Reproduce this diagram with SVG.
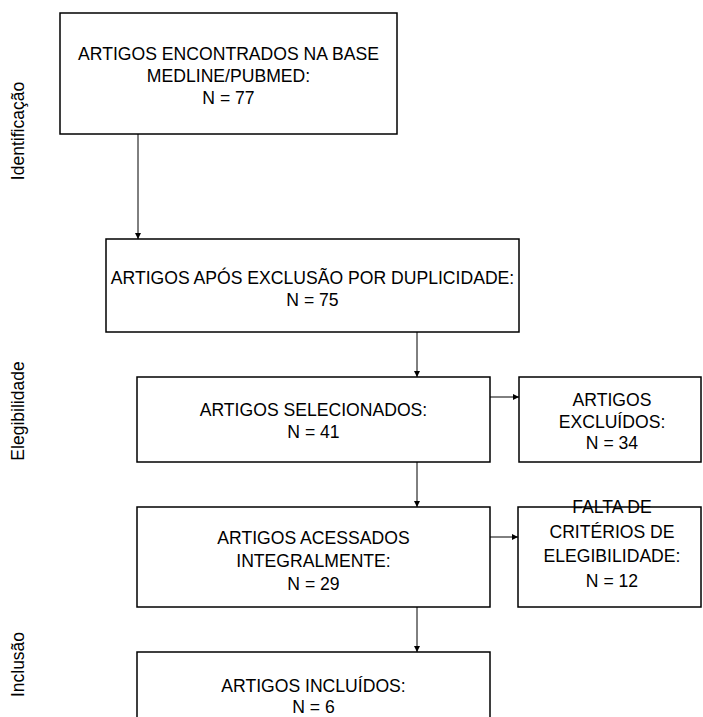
<svg xmlns="http://www.w3.org/2000/svg" width="703" height="717" viewBox="0 0 703 717">
<style>
.box{fill:#fff;stroke:#000;stroke-width:1.5}
.t{font-family:"Liberation Sans",Arial,sans-serif;font-size:17.6px;fill:#000;text-anchor:middle}
.side{font-family:"Liberation Sans",Arial,sans-serif;font-size:17.5px;fill:#000;text-anchor:middle}
.c{fill:none;stroke:#000;stroke-width:1}
</style>
<defs>
<marker id="ah" markerUnits="userSpaceOnUse" markerWidth="6" markerHeight="6" refX="6" refY="3" orient="auto">
<path d="M0,0 L6,3 L0,6 z" fill="#000"/>
</marker>
</defs>
<rect width="703" height="717" fill="#fff"/>
<g id="labels">
<text class="side" transform="translate(24,131) rotate(-90)">Identificação</text>
<text class="side" transform="translate(24,411) rotate(-90)">Elegibilidade</text>
<text class="side" transform="translate(24,664.5) rotate(-90)">Inclusão</text>
</g>
<g id="connectors">
<path class="c" d="M138,134 V239" marker-end="url(#ah)"/>
<path class="c" d="M417,332 V377" marker-end="url(#ah)"/>
<path class="c" d="M490,397 H519" marker-end="url(#ah)"/>
<path class="c" d="M417,462 V507" marker-end="url(#ah)"/>
<path class="c" d="M490,537 H518" marker-end="url(#ah)"/>
<path class="c" d="M417,607 V652" marker-end="url(#ah)"/>
</g>
<g id="n1">
<rect class="box" x="60" y="13" width="337" height="121"/>
<text class="t" x="228.5" y="59.5">ARTIGOS ENCONTRADOS NA BASE</text>
<text class="t" x="228.5" y="81.5">MEDLINE/PUBMED:</text>
<text class="t" x="228.5" y="103.5">N = 77</text>
</g>
<g id="n2">
<rect class="box" x="106" y="239" width="413" height="93"/>
<text class="t" x="312.5" y="284">ARTIGOS APÓS EXCLUSÃO POR DUPLICIDADE:</text>
<text class="t" x="312.5" y="306">N = 75</text>
</g>
<g id="n3">
<rect class="box" x="137" y="377" width="353" height="85"/>
<text class="t" x="313.5" y="416">ARTIGOS SELECIONADOS:</text>
<text class="t" x="313.5" y="437.5">N = 41</text>
</g>
<g id="n4">
<rect class="box" x="519" y="377" width="182" height="85"/>
<text class="t" x="612" y="406">ARTIGOS</text>
<text class="t" x="612" y="427.5">EXCLUÍDOS:</text>
<text class="t" x="612" y="449">N = 34</text>
</g>
<g id="n5">
<rect class="box" x="137" y="507" width="353" height="100"/>
<text class="t" x="313.5" y="544">ARTIGOS ACESSADOS</text>
<text class="t" x="313.5" y="567">INTEGRALMENTE:</text>
<text class="t" x="313.5" y="590">N = 29</text>
</g>
<g id="n6">
<rect class="box" x="518" y="507" width="183" height="100"/>
<text class="t" x="612" y="513">FALTA DE</text>
<text class="t" x="612" y="537.5">CRITÉRIOS DE</text>
<text class="t" x="612" y="562">ELEGIBILIDADE:</text>
<text class="t" x="612" y="586.5">N = 12</text>
</g>
<g id="n7">
<rect class="box" x="137" y="652" width="353" height="80"/>
<text class="t" x="313.5" y="692">ARTIGOS INCLUÍDOS:</text>
<text class="t" x="313.5" y="713">N = 6</text>
</g>
</svg>
